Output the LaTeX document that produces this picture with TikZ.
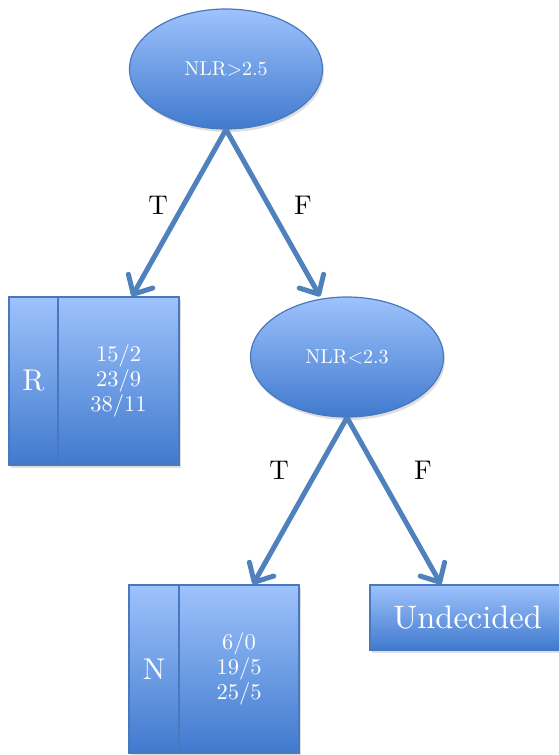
\documentclass[tikz,border=0pt]{standalone}
\usepackage{fontspec}
\setmainfont{lmroman10-regular.otf}
\usetikzlibrary{arrows.meta,shadows,shapes.geometric}

\definecolor{boxtop}{RGB}{158,194,252}
\definecolor{boxbot}{RGB}{64,122,206}
\definecolor{boxline}{RGB}{72,120,190}
\definecolor{arrowblue}{RGB}{79,129,189}

\tikzset{
  blueshade/.style={draw=boxline,line width=1.2,top color=boxtop,bottom color=boxbot,
    text=white,drop shadow={shadow xshift=1.5,shadow yshift=-3,opacity=0.25}},
  test/.style={ellipse,blueshade,minimum width=193,minimum height=120,
    font=\fontsize{20}{24}\selectfont},
  leaf/.style={rectangle,blueshade,minimum height=168,inner sep=0pt},
  branch/.style={draw=arrowblue,line width=5,
    -{Straight Barb[length=15,width=28,round]}},
  tf/.style={font=\fontsize{27}{30}\selectfont},
}

\begin{document}
\begin{tikzpicture}[x=1pt,y=1pt,yscale=-1,xscale=1]
  \useasboundingbox (0,0) rectangle (558,755);
  % tests
  \node [test] (nlrhigh) at (226,69) {NLR>2.5};
  \node [test] (nlrlow)  at (347,357) {NLR<2.3};
  % leaves
  \node [leaf,minimum width=49,font=\fontsize{30}{34}\selectfont]  (rlabel)  at (33.5,381) {R};
  \node [leaf,minimum width=121,align=center,font=\fontsize{22.5}{25}\selectfont] (rcounts) at (118.5,381) {15/2\\23/9\\38/11};
  \node [leaf,minimum width=50,font=\fontsize{30}{34}\selectfont]  (nlabel)  at (154,669) {N};
  \node [leaf,minimum width=120,align=center,font=\fontsize{22.5}{25}\selectfont] (ncounts) at (239,669) {6/0\\19/5\\25/5};
  \node [leaf,minimum width=195,minimum height=65,font=\fontsize{32.5}{38}\selectfont] (undecided) at (467.5,617.5) {Undecided};
  % branches
  \draw [branch] (nlrhigh.south) -- ([xshift=13.5]rcounts.north);
  \draw [branch] (nlrhigh.south) -- ([xshift=-27]nlrlow.north);
  \draw [branch] (nlrlow.south) -- ([xshift=14]ncounts.north);
  \draw [branch] (nlrlow.south) -- ([xshift=-26.5]undecided.north);
  \node [tf] (t1) at (158,205) {T};
  \node [tf] (f1) at (303,205) {F};
  \node [tf] (t2) at (279,470) {T};
  \node [tf] (f2) at (423,470) {F};
\end{tikzpicture}
\end{document}
